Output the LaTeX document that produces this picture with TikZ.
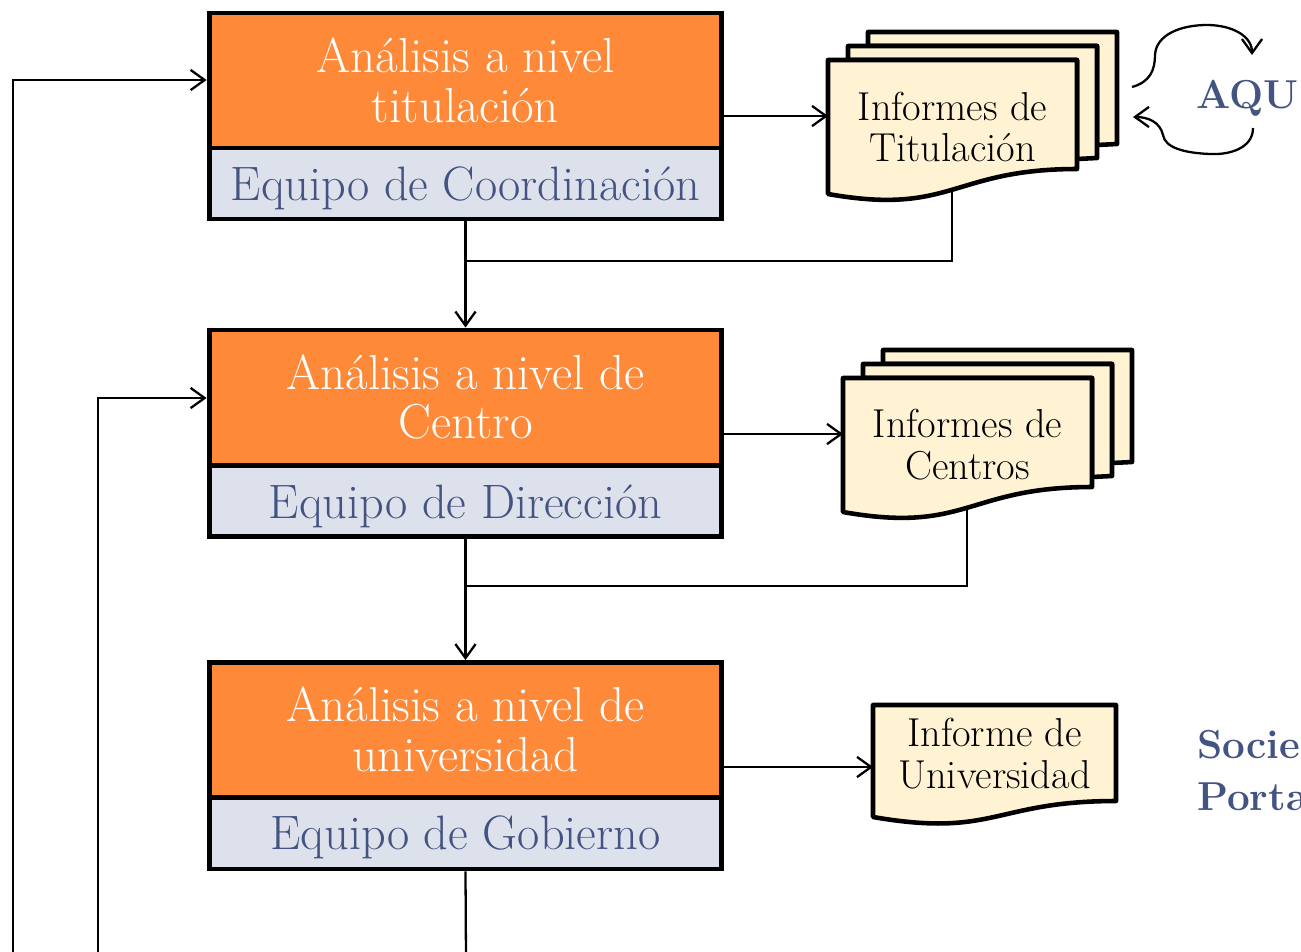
\documentclass[tikz,border=0pt]{standalone}
\usetikzlibrary{arrows.meta}
\definecolor{orng}{RGB}{253,137,57}
\definecolor{gray1}{RGB}{221,225,236}
\definecolor{bluet}{RGB}{68,84,130}
\definecolor{cream}{RGB}{255,243,212}
\begin{document}
\begin{tikzpicture}[x=0.02cm,y=-0.02cm,
  obox/.style={draw=black,line width=2.8pt,fill=orng,minimum width=10.26cm,minimum height=2.7cm,inner sep=0pt},
  gbox/.style={draw=black,line width=2.8pt,fill=gray1,minimum width=10.26cm,minimum height=1.42cm,inner sep=0pt},
  wtxt/.style={text=white,align=center,font=\fontsize{28}{28.35}\selectfont,inner sep=0pt},
  btxt/.style={text=bluet,font=\fontsize{27.5}{28.35}\selectfont,inner sep=0pt},
  doc/.style={draw=black,line width=2.6pt,fill=cream,line join=round},
  dtxt/.style={align=center,font=\fontsize{23}{23.8}\selectfont,inner sep=0pt},
  conn/.style={line width=1.3pt},
  arr/.style={-{Straight Barb[length=8pt,width=11.5pt,line width=1.3pt]}},
  bigtxt/.style={text=bluet,font=\bfseries\fontsize{23}{27}\selectfont,inner sep=0pt}
]
\useasboundingbox (0,0) rectangle (1301,951);
\clip (0,0) rectangle (1301,951);

% coordinates
\coordinate (l1) at (13,960);
\coordinate (l2) at (98,960);
\coordinate (b3) at (466,960);
\coordinate (d1in) at (828,116);
\coordinate (d2in) at (843,434);
\coordinate (d3in) at (873,767);
\coordinate (d1out) at (952,185);
\coordinate (d2out) at (967,503);
\coordinate (j1) at (466,261);
\coordinate (j2) at (466,586);

% boxes
\node[obox] (o1) at (465.5,80.5) {};
\node[gbox] (e1) at (465.5,183.5) {};
\node[obox] (o2) at (465.5,397.5) {};
\node[gbox] (e2) at (465.5,501) {};
\node[obox] (o3) at (465.5,730) {};
\node[gbox] (e3) at (465.5,833.5) {};

\node[wtxt] (t1) at (465.5,80) {Análisis a nivel\\titulación};
\node[wtxt] (t2) at (465.5,397) {Análisis a nivel de\\Centro};
\node[wtxt] (t3) at (465.5,729) {Análisis a nivel de\\universidad};
\node[btxt,anchor=base] (q1) at (465.5,200) {Equipo de Coordinación};
\node[btxt,anchor=base] (q2) at (465.5,518) {Equipo de Dirección};
\node[btxt,anchor=base] (q3) at (465.5,849) {Equipo de Gobierno};

% connectors
\draw[conn,arr] (l1) |- (o1.west |- 0,80);
\draw[conn,arr] (l2) |- (o2.west |- 0,398);
\draw[conn,arr] (o1.east |- d1in) -- (d1in);
\draw[conn,arr] (o2.east |- d2in) -- (d2in);
\draw[conn,arr] (o3.east |- d3in) -- (d3in);
\draw[conn,arr] (e1.south) -- (o2.north);
\draw[conn,arr] (e2.south) -- (o3.north);
\draw[conn] (e3.south) -- (b3);
\draw[conn] (d1out) |- (j1);
\draw[conn] (d2out) |- (j2);

% document stack 1
\draw[doc] (868,46) -- (868,32) -- (1117,32) -- (1117,144) -- (1097,145) -- (1097,46) -- cycle;
\draw[doc] (848,60) -- (848,46) -- (1097,46) -- (1097,158) -- (1077,159) -- (1077,60) -- cycle;
\draw[doc] (828,60) -- (1077,60) -- (1077,169) .. controls (952,169) and (952,216) .. (828,194) -- cycle;
\node[dtxt] (n1) at (952.5,127) {Informes de\\Titulación};

% document stack 2
\draw[doc] (883,364) -- (883,350) -- (1132,350) -- (1132,462) -- (1112,463) -- (1112,364) -- cycle;
\draw[doc] (863,378) -- (863,364) -- (1112,364) -- (1112,476) -- (1092,477) -- (1092,378) -- cycle;
\draw[doc] (843,378) -- (1092,378) -- (1092,487) .. controls (967,487) and (967,534) .. (843,512) -- cycle;
\node[dtxt] (n2) at (967.5,445) {Informes de\\Centros};

% single document
\draw[doc] (873,705) -- (1116,705) -- (1116,801) .. controls (994.5,801) and (994.5,838) .. (873,817) -- cycle;
\node[dtxt] (n3) at (994.5,754) {Informe de\\Universidad};

% AQU
\node[bigtxt,anchor=base west] (aqu) at (1196,108) {AQU};
\draw[conn,-{Straight Barb[length=8pt,width=11.5pt,line width=1.3pt]}] (1132,87) .. controls (1150,82) and (1155,70) .. (1155,55) .. controls (1156,35) and (1180,25) .. (1207,25) .. controls (1232,25) and (1252,36) .. (1252,55);
\draw[conn,-{Straight Barb[length=8pt,width=11.5pt,line width=1.3pt]}] (1253,128) .. controls (1253,148) and (1230,155) .. (1210,154) .. controls (1185,153) and (1165,148) .. (1163,135) .. controls (1160,122) and (1148,117) .. (1133,117);

% right texts
\node[bigtxt,anchor=base west] (soc) at (1197,758) {Socie};
\node[bigtxt,anchor=base west] (por) at (1197,810) {Porta};
\end{tikzpicture}
\end{document}
